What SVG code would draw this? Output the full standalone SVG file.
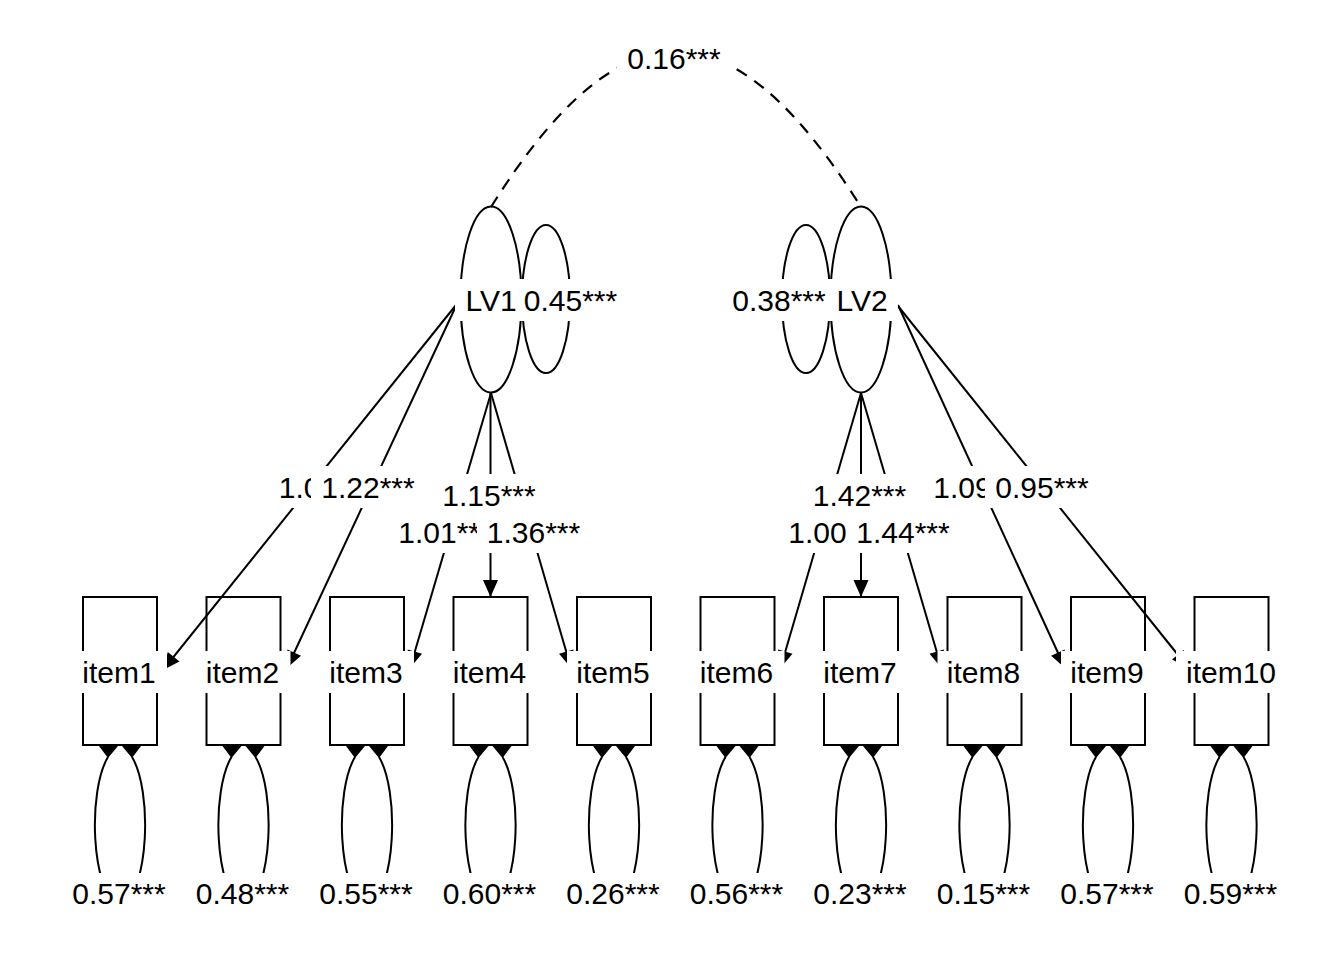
<svg xmlns="http://www.w3.org/2000/svg" width="1344" height="960" viewBox="0 0 1344 960">
<style>
 .e{fill:none;stroke:#000;stroke-width:2}
 .a{marker-end:url(#ah)}
 .dash{stroke-dasharray:12,9;stroke-width:2.2}
 .bg{fill:#fff}
 .n{fill:none;stroke:#000;stroke-width:2}
 text{font-family:"Liberation Sans",Arial,Helvetica,sans-serif;font-size:30px;fill:#000;text-anchor:middle}
</style>
<defs>
 <marker id="ah" viewBox="-18 -9 20 18" refX="0" refY="0" markerWidth="20" markerHeight="18" markerUnits="userSpaceOnUse" orient="auto"><path d="M0,0 L-17,-7.5 L-17,7.5 Z" fill="#000"/></marker>
 <g id="resid">
  <path class="e" d="M-12,757 C-32,790 -30,890 0,910 C30,890 32,790 12,757"/>
  <path d="M-21,746 L-2,746 L-12,758 Z M2,746 L21,746 L12,758 Z" fill="#000"/>
 </g>
</defs>
<rect width="1344" height="960" fill="#fff"/>

<g id="connectors">
 <path class="e dash" d="M491,207 C621,0 731,0 861,207"/>
 <ellipse class="e" cx="546" cy="299" rx="24" ry="74"/>
 <ellipse class="e" cx="806" cy="299" rx="24" ry="74"/>
 <path class="e a" d="M456,305 L163,670"/>
 <path class="e a" d="M456,306 L287,668"/>
 <path class="e a" d="M491,393 L410,668"/>
 <path class="e a" d="M490.5,393 L490.5,597"/>
 <path class="e a" d="M491,393 L571,668"/>
 <path class="e a" d="M861,393 L780.5,668"/>
 <path class="e a" d="M861,393 L861,597"/>
 <path class="e a" d="M861,393 L941.5,668"/>
 <path class="e a" d="M898,305 L1065,668"/>
 <path class="e a" d="M898,306 L1188.5,668"/>
 <use href="#resid" transform="translate(120,0)"/>
 <use href="#resid" transform="translate(243.5,0)"/>
 <use href="#resid" transform="translate(367,0)"/>
 <use href="#resid" transform="translate(490.5,0)"/>
 <use href="#resid" transform="translate(614,0)"/>
 <use href="#resid" transform="translate(737.5,0)"/>
 <use href="#resid" transform="translate(861,0)"/>
 <use href="#resid" transform="translate(984.5,0)"/>
 <use href="#resid" transform="translate(1108,0)"/>
 <use href="#resid" transform="translate(1231.5,0)"/>
</g>

<g id="LV1">
 <ellipse class="n" cx="491" cy="299.5" rx="30.5" ry="93"/>
 <rect class="bg" x="455" y="279" width="72" height="42"/>
 <text x="491" y="310.5">LV1</text>
</g>
<g id="LV2">
 <ellipse class="n" cx="861" cy="299.5" rx="30.5" ry="93"/>
 <rect class="bg" x="825" y="279" width="73" height="42"/>
 <text x="862" y="310.5">LV2</text>
</g>

<g id="item1"><rect class="n" x="83" y="597" width="74" height="148"/><rect class="bg" x="73" y="651" width="94" height="42"/><text x="119" y="682.5">item1</text></g>
<g id="item2"><rect class="n" x="206.5" y="597" width="74" height="148"/><rect class="bg" x="196.5" y="651" width="94" height="42"/><text x="242.5" y="682.5">item2</text></g>
<g id="item3"><rect class="n" x="330" y="597" width="74" height="148"/><rect class="bg" x="320" y="651" width="94" height="42"/><text x="366" y="682.5">item3</text></g>
<g id="item4"><rect class="n" x="453.5" y="597" width="74" height="148"/><rect class="bg" x="443.5" y="651" width="94" height="42"/><text x="489.5" y="682.5">item4</text></g>
<g id="item5"><rect class="n" x="577" y="597" width="74" height="148"/><rect class="bg" x="567" y="651" width="94" height="42"/><text x="613" y="682.5">item5</text></g>
<g id="item6"><rect class="n" x="700.5" y="597" width="74" height="148"/><rect class="bg" x="690.5" y="651" width="94" height="42"/><text x="736.5" y="682.5">item6</text></g>
<g id="item7"><rect class="n" x="824" y="597" width="74" height="148"/><rect class="bg" x="814" y="651" width="94" height="42"/><text x="860" y="682.5">item7</text></g>
<g id="item8"><rect class="n" x="947.5" y="597" width="74" height="148"/><rect class="bg" x="937.5" y="651" width="94" height="42"/><text x="983.5" y="682.5">item8</text></g>
<g id="item9"><rect class="n" x="1071" y="597" width="74" height="148"/><rect class="bg" x="1061" y="651" width="94" height="42"/><text x="1107" y="682.5">item9</text></g>
<g id="item10"><rect class="n" x="1194.5" y="597" width="74" height="148"/><rect class="bg" x="1176" y="651" width="110" height="42"/><text x="1231" y="682.5">item10</text></g>

<g id="labels">
 <rect class="bg" x="617" y="37" width="114" height="42"/><text x="674" y="68.5">0.16***</text>
 <rect class="bg" x="516" y="279" width="109" height="42"/><text x="570.5" y="310.5">0.45***</text>
 <rect class="bg" x="726" y="279" width="108" height="42"/><text x="779" y="310.5">0.38***</text>
 <rect class="bg" x="269" y="466" width="78" height="42"/><text x="308" y="497.5">1.00</text>
 <rect class="bg" x="311" y="466" width="114" height="42"/><text x="368" y="497.5">1.22***</text>
 <rect class="bg" x="432" y="474" width="114" height="42"/><text x="489" y="505.5">1.15***</text>
 <rect class="bg" x="388" y="511" width="114" height="42"/><text x="445" y="542.5">1.01***</text>
 <rect class="bg" x="477" y="511" width="114" height="42"/><text x="533.5" y="542.5">1.36***</text>
 <rect class="bg" x="802" y="474" width="114" height="42"/><text x="859.5" y="505.5">1.42***</text>
 <rect class="bg" x="778" y="511" width="79" height="42"/><text x="817.5" y="542.5">1.00</text>
 <rect class="bg" x="846" y="511" width="114" height="42"/><text x="903" y="542.5">1.44***</text>
 <rect class="bg" x="923" y="466" width="114" height="42"/><text x="980" y="497.5">1.09***</text>
 <rect class="bg" x="985" y="466" width="114" height="42"/><text x="1042" y="497.5">0.95***</text>
 <rect class="bg" x="62" y="873" width="114" height="42"/><text x="119" y="904">0.57***</text>
 <rect class="bg" x="185.5" y="873" width="114" height="42"/><text x="242.5" y="904">0.48***</text>
 <rect class="bg" x="309" y="873" width="114" height="42"/><text x="366" y="904">0.55***</text>
 <rect class="bg" x="432.5" y="873" width="114" height="42"/><text x="489.5" y="904">0.60***</text>
 <rect class="bg" x="556" y="873" width="114" height="42"/><text x="613" y="904">0.26***</text>
 <rect class="bg" x="679.5" y="873" width="114" height="42"/><text x="736.5" y="904">0.56***</text>
 <rect class="bg" x="803" y="873" width="114" height="42"/><text x="860" y="904">0.23***</text>
 <rect class="bg" x="926.5" y="873" width="114" height="42"/><text x="983.5" y="904">0.15***</text>
 <rect class="bg" x="1050" y="873" width="114" height="42"/><text x="1107" y="904">0.57***</text>
 <rect class="bg" x="1173.5" y="873" width="114" height="42"/><text x="1230.5" y="904">0.59***</text>
</g>
</svg>
